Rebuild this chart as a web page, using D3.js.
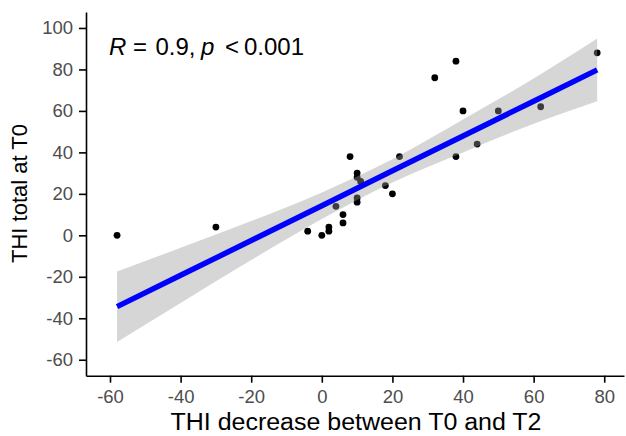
<!DOCTYPE html>
<html>
<head>
<meta charset="utf-8">
<script src="https://cdn.jsdelivr.net/npm/d3@7.9.0/dist/d3.min.js"></script>
<style>
  body { margin: 0; background: #fff; }
  svg { display: block; font-family: "Liberation Sans", Arial, sans-serif; }
  .tick text { fill: #4d4d4d; font-size: 18.5px; }
  .domain, .tick line { stroke: #000; stroke-width: 1.6; }
</style>
</head>
<body>
<svg id="chart" width="626" height="436"></svg>
<script>
// THI decrease between T0 and T2 (x) vs THI total at T0 (y)
const thiDecrease = [-58, -30, -4, 0, 2, 2, 4, 6, 6, 8, 10, 10, 11, 10, 10, 18, 20, 22, 32, 38, 40, 50, 62, 78, 44, 38];
const thiTotal    = [0, 4, 2, 0, 4, 2, 14, 10, 6, 38, 30, 28, 26, 18, 16, 24, 20, 38, 76, 84, 60, 60, 62, 88, 44, 38];

// linear fit and its 95% band
const fitX     = [-58, -40, -20, 0, 20, 40, 60, 78];
const fitY     = [-34.4, -19.3, -2.5, 14.3, 31.1, 47.9, 64.7, 79.8];
const fitLower = [-51.4, -32.6, -11.9, 7.9, 25.5, 40.0, 53.8, 64.7];
const fitUpper = [-17.4, -6.0, 6.9, 20.7, 36.7, 55.8, 75.6, 94.9];

const xTicks = [-60, -40, -20, 0, 20, 40, 60, 80];
const yTicks = [-60, -40, -20, 0, 20, 40, 60, 80, 100];

const svg = d3.select('#chart');

const x = d3.scaleLinear().domain([-66.8, 85.6]).range([86, 624]);
const y = d3.scaleLinear().domain([-67.7, 107.7]).range([375.7, 12]);

const points = thiDecrease.map((d, i) => ({ x: d, y: thiTotal[i] }));
const fit = fitX.map((d, i) => ({ x: d, y: fitY[i], lo: fitLower[i], hi: fitUpper[i] }));

// points first, ribbon drawn over them with alpha (as ggplot does)
svg.append('g')
  .selectAll('circle')
  .data(points)
  .join('circle')
  .attr('cx', (d) => x(d.x))
  .attr('cy', (d) => y(d.y))
  .attr('r', 3.4)
  .attr('fill', '#000');

svg.append('path')
  .datum(fit)
  .attr('d', d3.area().curve(d3.curveMonotoneX).x((d) => x(d.x)).y0((d) => y(d.lo)).y1((d) => y(d.hi)))
  .attr('fill', '#999999')
  .attr('fill-opacity', 0.4);

svg.append('path')
  .datum(fit)
  .attr('d', d3.line().x((d) => x(d.x)).y((d) => y(d.y)))
  .attr('fill', 'none')
  .attr('stroke', '#0000ff')
  .attr('stroke-width', 5.5);

svg.append('g')
  .attr('transform', 'translate(0,375.7)')
  .call(d3.axisBottom(x).tickValues(xTicks).tickFormat((d) => String(d)).tickSize(7).tickSizeOuter(0).tickPadding(7.5));

svg.append('g')
  .attr('transform', 'translate(86,0)')
  .call(d3.axisLeft(y).tickValues(yTicks).tickFormat((d) => String(d)).tickSize(7).tickSizeOuter(0).tickPadding(6));

svg.append('text')
  .attr('x', 356)
  .attr('y', 430)
  .attr('text-anchor', 'middle')
  .attr('font-size', 23.5)
  .attr('textLength', 371)
  .attr('lengthAdjust', 'spacingAndGlyphs')
  .text('THI decrease between T0 and T2');

svg.append('text')
  .attr('transform', 'translate(27,193.5) rotate(-90)')
  .attr('text-anchor', 'middle')
  .attr('font-size', 22)
  .text('THI total at T0');

const label = svg.append('text')
  .attr('y', 55)
  .attr('font-size', 24);
label.append('tspan').attr('x', 109).attr('font-style', 'italic').text('R');
label.append('tspan').attr('x', 133).text('=');
label.append('tspan').attr('x', 155.5).text('0.9,');
label.append('tspan').attr('x', 201).attr('font-style', 'italic').text('p');
label.append('tspan').attr('x', 225).text('<');
label.append('tspan').attr('x', 244).text('0.001');
</script>
</body>
</html>
